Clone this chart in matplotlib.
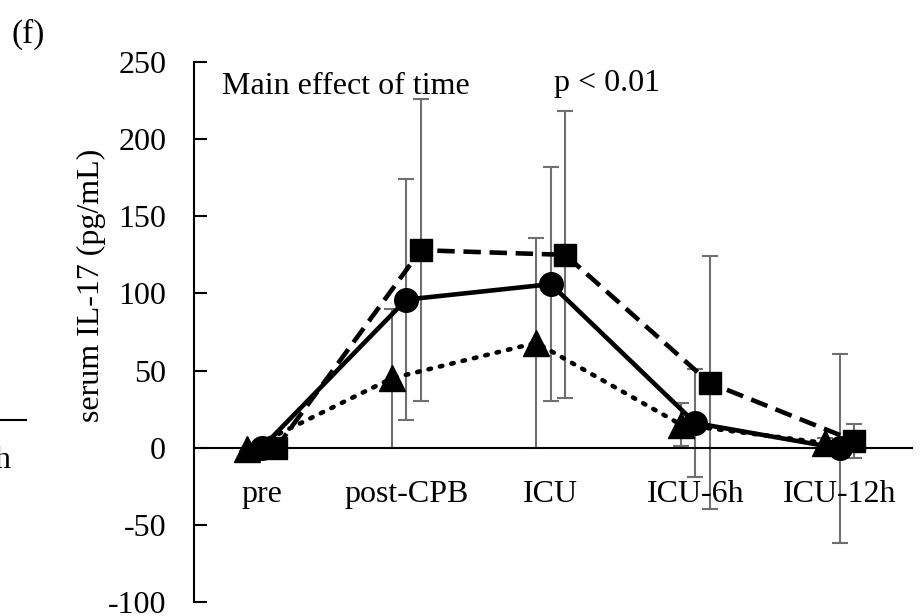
import matplotlib
matplotlib.use("Agg")
import matplotlib.pyplot as plt
from matplotlib.lines import Line2D
import numpy as np

plt.rcParams['font.family'] = ['Liberation Serif', 'DejaVu Serif']
plt.rcParams['axes.unicode_minus'] = False

categories = ["pre", "post-CPB", "ICU", "ICU-6h", "ICU-12h"]

# circle / solid
circ_mean = [0, 96, 106, 16, -0.5]
circ_err = [1, 78, 76, 35, 61]
# square / dashed
sq_mean = [0, 128, 125, 42, 4.5]
sq_err = [1, 98, 93, 82, 11]
# triangle / dotted
tri_mean = [-1, 45, 68, 15, 3]
tri_err = [1, 45, 68, 14, 3]

x = np.arange(len(categories))
FS = 23

fig = plt.figure(figsize=(9.21, 6.16), dpi=100)
ax = fig.add_axes([0.2106, 0.0227, 0.7796, 0.8767])

ebkw = dict(fmt="none", ecolor="#707070", elinewidth=1.5, capsize=5.5, capthick=1.5, zorder=1)
ax.errorbar(x - 0.1, tri_mean, yerr=tri_err, **ebkw)
ax.errorbar(x, circ_mean, yerr=circ_err, **ebkw)
ax.errorbar(x + 0.1, sq_mean, yerr=sq_err, **ebkw)

ax.plot(x - 0.1, tri_mean, color="black", linestyle=(0, (0.55, 2.0)), dash_capstyle="round",
        linewidth=3.3, marker="^", markersize=19, zorder=3)
ax.plot(x, circ_mean, color="black", linestyle="-", linewidth=3.3,
        marker="o", markersize=17, zorder=3)
ax.plot(x + 0.1, sq_mean, color="black", linestyle=(0, (3.8, 1.9)), linewidth=3.3,
        marker="s", markersize=16, zorder=3)

ax.set_xlim(-0.47, 4.5)
ax.set_ylim(-100, 250)
ax.set_yticks(np.arange(-100, 251, 50))
ax.set_xticks(x)
ax.set_xticklabels(categories)

ax.spines['top'].set_visible(False)
ax.spines['right'].set_visible(False)
ax.spines['bottom'].set_position(('data', 0))
ax.spines['left'].set_linewidth(1.5)
ax.spines['bottom'].set_linewidth(1.5)
ax.tick_params(axis='y', direction='in', length=9, width=1.5, labelsize=FS, pad=20)
ax.tick_params(axis='x', length=0, labelsize=FS, pad=23)

ax.set_ylabel("serum IL-17 (pg/mL)", fontsize=FS)
ax.yaxis.set_label_coords(-0.122, 0.587)

ax.text(0.039, 0.955, "Main effect of time", transform=ax.transAxes, fontsize=FS, va="center")
ax.text(2.02, 236, "p < 0.01", fontsize=FS, va="center")

fig.text(0.012, 0.945, "(f)", fontsize=FS + 1, va="center")

# fragment of neighbouring panel at left edge
fig.add_artist(Line2D([0, 0.028], [1 - 420 / 616, 1 - 420 / 616], color="black", linewidth=1.5))
fig.text(-0.006, 1 - 460 / 616, "h", fontsize=FS, va="center")

fig.savefig("out.png", dpi=100)
